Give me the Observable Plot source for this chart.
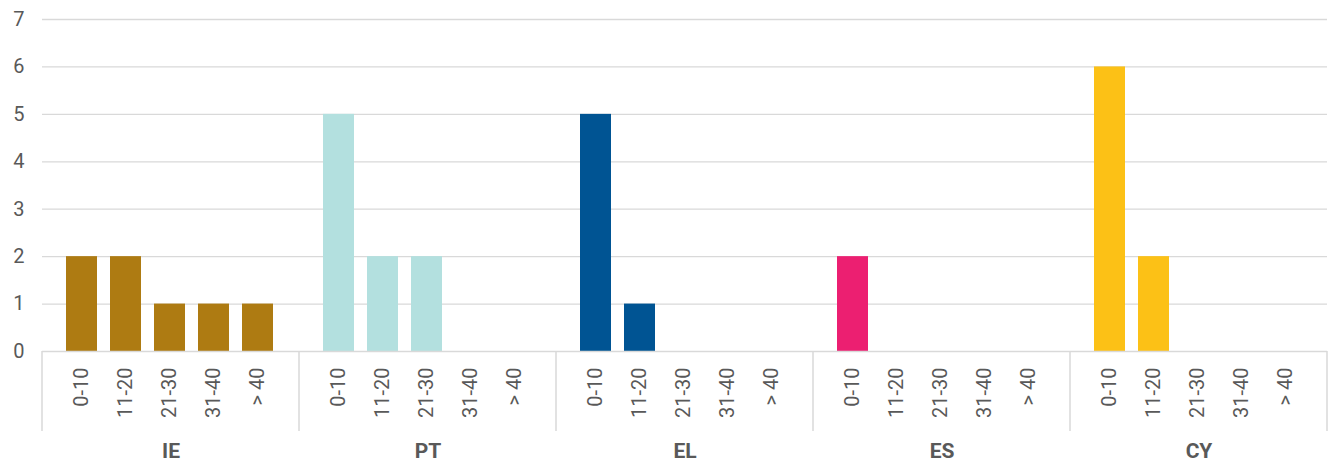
<!DOCTYPE html>
<html>
<head>
<meta charset="utf-8">
<script src="https://cdn.jsdelivr.net/npm/d3@7"></script>
<script src="https://cdn.jsdelivr.net/npm/@observablehq/plot@0.6"></script>
<style>
  html, body { margin: 0; padding: 0; background: #fff; }
  svg { font-family: Roboto, "Liberation Sans", sans-serif; }
</style>
</head>
<body>
<div id="chart"></div>
<script>
const countries = ["IE", "PT", "EL", "ES", "CY"];
const bins = ["0-10", "11-20", "21-30", "31-40", "> 40"];
const valuesIE = [2, 2, 1, 1, 1];
const valuesPT = [5, 2, 2, 0, 0];
const valuesEL = [5, 1, 0, 0, 0];
const valuesES = [2, 0, 0, 0, 0];
const valuesCY = [6, 2, 0, 0, 0];
const colors = ["#ae7b12", "#b3e0df", "#005493", "#ec1f71", "#fcc116"];
const yTicks = [0, 1, 2, 3, 4, 5, 6, 7];

const seriesValues = [valuesIE, valuesPT, valuesEL, valuesES, valuesCY];
const data = [];
countries.forEach((c, i) => {
  bins.forEach((b, j) => data.push({country: c, bin: b, value: seriesValues[i][j]}));
});

const grey = "#d9d9d9";
const textColor = "#595959";

const plot = Plot.plot({
  width: 1335,
  height: 463,
  marginLeft: 41,
  marginRight: 8,
  marginTop: 19,
  marginBottom: 112,
  style: {fontFamily: "Roboto, 'Liberation Sans', sans-serif", color: textColor, background: "#fff", fontSize: "20px"},
  fx: {domain: countries, padding: 0},
  x: {domain: bins, paddingInner: 0.3, paddingOuter: 0.54, align: 0.48},
  y: {domain: [0, 7]},
  color: {domain: countries, range: colors},
  marks: [
    Plot.ruleY(yTicks.slice(1), {stroke: grey, strokeWidth: 1.3}),
    Plot.barY(data, {fx: "country", x: "bin", y: "value", fill: "country"}),
    Plot.ruleY([0], {stroke: grey, strokeWidth: 1.5}),
    Plot.axisY({ticks: yTicks, tickSize: 0, tickPadding: 18, fontSize: 20, tickFormat: d => d, label: null}),
    Plot.axisX({anchor: "bottom", tickRotate: -90, tickSize: 0, tickPadding: 16, fontSize: 20, label: null}),
    Plot.axisFx({anchor: "bottom", tickSize: 0, tickPadding: 92, fontSize: 21, fontWeight: "bold", label: null})
  ]
});

// group separators from the fx band scale
const fx = plot.scale("fx");
const y = plot.scale("y");
const y0 = y.apply(0);
const edges = countries.map(c => fx.apply(c));
edges.push(fx.apply(countries[countries.length - 1]) + fx.bandwidth);
const svg = d3.select(plot);
svg.append("g")
  .selectAll("line")
  .data(edges)
  .join("line")
  .attr("x1", d => d).attr("x2", d => d)
  .attr("y1", y0).attr("y2", y0 + 80)
  .attr("stroke", grey).attr("stroke-width", 1.5);

document.getElementById("chart").appendChild(plot);
</script>
</body>
</html>
